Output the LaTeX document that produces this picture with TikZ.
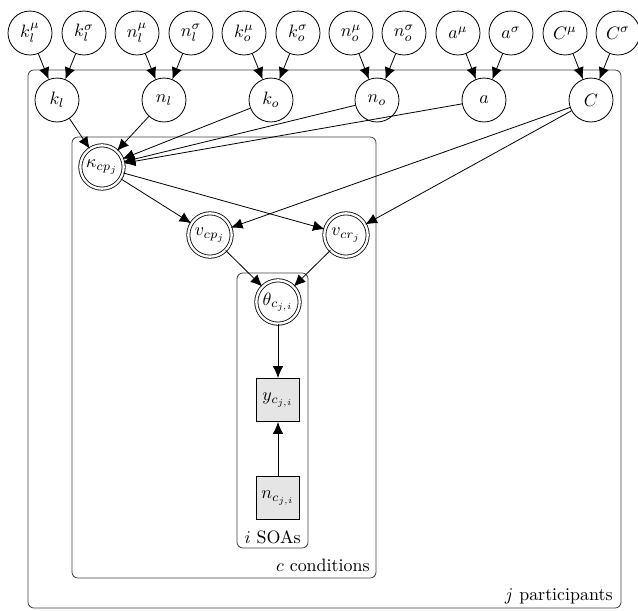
\documentclass[tikz,border=0pt]{standalone}
\usetikzlibrary{arrows.meta}
\begin{document}
\begin{tikzpicture}[x=0.0196cm,y=-0.0196cm,line width=0.45pt,
  latent/.style={circle,draw,minimum size=0.862cm,inner sep=0pt},
  deter/.style={circle,draw,double,double distance=1.3pt,minimum size=0.85cm,inner sep=0pt},
  obs/.style={rectangle,draw,fill=gray!20,minimum size=0.85cm,inner sep=0pt},
  edge/.style={-{Latex[length=2.3mm,width=2.05mm]}},
  plate/.style={draw=black!75,rounded corners=0.115cm},
  platelabel/.style={anchor=base east,inner sep=0pt}]
\useasboundingbox (0,0) rectangle (638,611);

% plates
\draw[plate] (28,70) rectangle (621,608);
\draw[plate] (72,137) rectangle (376,578);
\draw[plate] (237,273) rectangle (308,548);
\node[platelabel] (lblj) at (613,600) {$j$ participants};
\node[platelabel] (lblc) at (370,571) {$c$ conditions};
\node[platelabel] (lbli) at (301,543) {$i$ SOAs};

% hyperparameters
\node[latent] (klmu) at (30,33) {$k_l^\mu$};
\node[latent] (klsg) at (84,33) {$k_l^\sigma$};
\node[latent] (nlmu) at (137,33) {$n_l^\mu$};
\node[latent] (nlsg) at (191,33) {$n_l^\sigma$};
\node[latent] (komu) at (244,33) {$k_o^\mu$};
\node[latent] (kosg) at (298,33) {$k_o^\sigma$};
\node[latent] (nomu) at (351,33) {$n_o^\mu$};
\node[latent] (nosg) at (404,33) {$n_o^\sigma$};
\node[latent] (amu)  at (458,33) {$a^\mu$};
\node[latent] (asg)  at (511,33) {$a^\sigma$};
\node[latent] (Cmu)  at (565,33) {$C^\mu$};
\node[latent] (Csg)  at (618,33) {$C^\sigma$};

% participant-level parameters
\node[latent] (kl) at (57,100) {$k_l$};
\node[latent] (nl) at (164,100) {$n_l$};
\node[latent] (ko) at (271,100) {$k_o$};
\node[latent] (no) at (377,100) {$n_o$};
\node[latent] (a)  at (484,100) {$a$};
\node[latent] (C)  at (591,100) {$C$};

% condition-level
\node[deter] (kappa) at (102,167) {$\kappa_{cp_j}$};
\node[deter] (vcp) at (210,235) {$v_{cp_j}$};
\node[deter] (vcr) at (346,235) {$v_{cr_j}$};

% SOA-level
\node[deter] (theta) at (278,302) {$\theta_{c_{j,i}}$};
\node[obs] (y) at (278,400) {$y_{c_{j,i}}$};
\node[obs] (n) at (278,498) {$n_{c_{j,i}}$};

% edges
\draw[edge] (klmu) -- (kl);
\draw[edge] (klsg) -- (kl);
\draw[edge] (nlmu) -- (nl);
\draw[edge] (nlsg) -- (nl);
\draw[edge] (komu) -- (ko);
\draw[edge] (kosg) -- (ko);
\draw[edge] (nomu) -- (no);
\draw[edge] (nosg) -- (no);
\draw[edge] (amu) -- (a);
\draw[edge] (asg) -- (a);
\draw[edge] (Cmu) -- (C);
\draw[edge] (Csg) -- (C);

\draw[edge] (kl) -- (kappa);
\draw[edge] (nl) -- (kappa);
\draw[edge] (ko) -- (kappa);
\draw[edge] (no) -- (kappa);
\draw[edge] (a) -- (kappa);
\draw[edge] (C) -- (vcp);
\draw[edge] (C) -- (vcr);
\draw[edge] (kappa) -- (vcp);
\draw[edge] (kappa) -- (vcr);
\draw[edge] (vcp) -- (theta);
\draw[edge] (vcr) -- (theta);
\draw[edge] (theta) -- (y);
\draw[edge] (n) -- (y);
\end{tikzpicture}
\end{document}
